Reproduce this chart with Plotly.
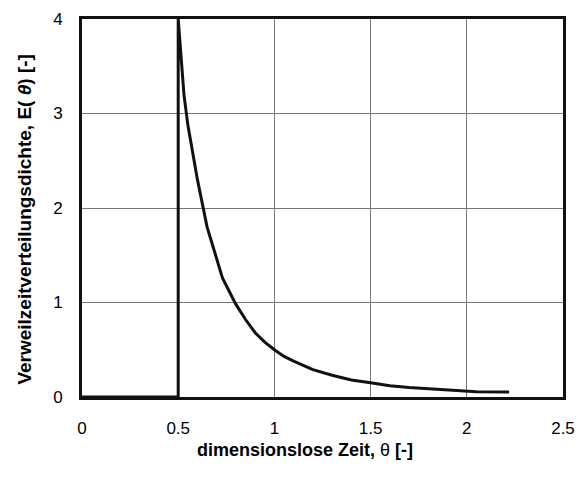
import plotly.graph_objects as go

theta = [0, 0.5, 0.5, 0.53, 0.55, 0.6, 0.65, 0.7, 0.73, 0.8, 0.85, 0.9, 0.95, 1.0,
         1.05, 1.1, 1.2, 1.3, 1.4, 1.5, 1.6, 1.7, 1.8, 1.9, 2.0, 2.05, 2.22]
E = [0, 0, 4.0, 3.2, 2.88, 2.3, 1.8, 1.45, 1.26, 0.98, 0.82, 0.68, 0.58, 0.5,
     0.43, 0.38, 0.29, 0.23, 0.18, 0.15, 0.12, 0.1, 0.085, 0.073, 0.0625, 0.055, 0.053]

x_ticks = [0, 0.5, 1, 1.5, 2, 2.5]
x_labels = ["0", "0.5", "1", "1.5", "2", "2.5"]
y_ticks = [0, 1, 2, 3, 4]
x_title = "<b>dimensionslose Zeit, </b>θ<b> [-]</b>"
y_title = "<b>Verweilzeitverteilungsdichte, E( <i>θ</i>) [-]</b>"

fig = go.Figure()
fig.add_trace(go.Scatter(x=theta, y=E, mode="lines",
                         line=dict(color="#111111", width=3), showlegend=False))

font = dict(family="Liberation Sans, Arial, sans-serif", size=17, color="#000")
fig.update_layout(
    template="none",
    width=579, height=477,
    margin=dict(l=82, r=16, t=19, b=80),
    paper_bgcolor="white", plot_bgcolor="white",
    font=font,
    xaxis=dict(range=[0, 2.5], tickvals=x_ticks, ticktext=x_labels,
               automargin=False,
               showgrid=True, gridcolor="#777777", gridwidth=1,
               showline=True, linecolor="#111111", linewidth=3, mirror=True,
               ticks="", ticklabelstandoff=14, zeroline=False),
    yaxis=dict(range=[0, 4], tickvals=y_ticks,
               automargin=False,
               showgrid=True, gridcolor="#777777", gridwidth=1,
               showline=True, linecolor="#111111", linewidth=3, mirror=True,
               ticks="", ticklabelstandoff=13, zeroline=False),
    annotations=[
        dict(text=x_title, xref="paper", yref="paper", x=0.4636, y=-0.139,
             xanchor="center", yanchor="middle", showarrow=False,
             font=dict(size=18)),
        dict(text=y_title, xref="paper", yref="paper", x=-0.12, y=0.47,
             xanchor="center", yanchor="middle", showarrow=False, textangle=-90,
             font=dict(size=19)),
    ],
)
fig.write_html("out.html", config={"displayModeBar": False},
               post_script="document.body.style.margin='0';document.body.style.overflow='hidden';")
